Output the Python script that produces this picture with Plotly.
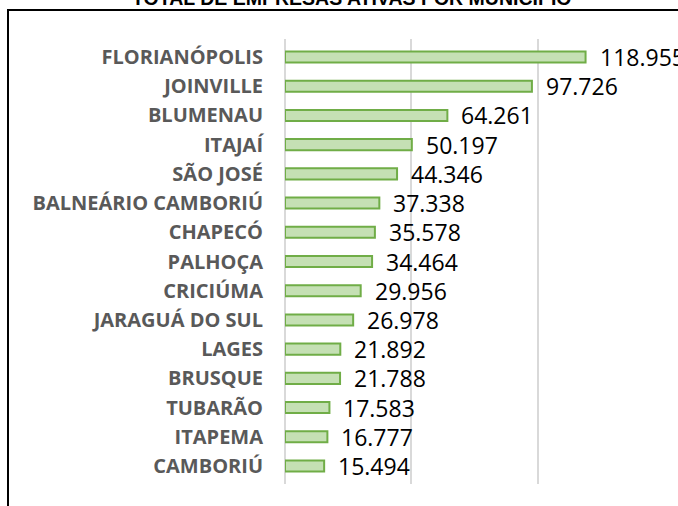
import plotly.graph_objects as go

municipios = ["FLORIANÓPOLIS", "JOINVILLE", "BLUMENAU", "ITAJAÍ", "SÃO JOSÉ",
              "BALNEÁRIO CAMBORIÚ", "CHAPECÓ", "PALHOÇA", "CRICIÚMA", "JARAGUÁ DO SUL",
              "LAGES", "BRUSQUE", "TUBARÃO", "ITAPEMA", "CAMBORIÚ"]
empresas = [118955, 97726, 64261, 50197, 44346, 37338, 35578, 34464, 29956, 26978,
            21892, 21788, 17583, 16777, 15494]
titulo = "TOTAL DE EMPRESAS ATIVAS POR MUNICÍPIO"

labels = [f"{v:,}".replace(",", ".") for v in empresas]

# plot area in window pixels: x 285..664, y 39..484
PX0, PX1, PY0, PY1 = 285, 664, 39, 484


def px_x(p):
    return (p - PX0) / (PX1 - PX0)


def px_y(p):
    return (PY1 - p) / (PY1 - PY0)


fig = go.Figure(go.Bar(
    x=empresas, y=municipios, orientation="h",
    marker=dict(color="#c5e0b4", line=dict(color="#70ad47", width=2)),
    width=0.38,
    hoverinfo="skip",
))

annotations = [dict(x=v, y=m, xref="x", yref="y", text=t, showarrow=False,
                    xanchor="left", yanchor="middle", xshift=12, yshift=0,
                    font=dict(family="Open Sans", size=23, color="#000000"))
               for v, m, t in zip(empresas, municipios, labels)]
annotations.append(dict(text=f"<b>{titulo}</b>", xref="paper", yref="paper",
                        x=px_x(352), y=px_y(10), xanchor="center", yanchor="bottom",
                        showarrow=False, borderpad=0,
                        font=dict(family="Liberation Sans", size=19.5, color="#000000")))

border = dict(color="#000000", width=2)
fig.update_layout(
    width=678, height=506,
    margin=dict(l=PX0, r=678 - PX1, t=PY0, b=506 - PY1),
    paper_bgcolor="white", plot_bgcolor="white",
    showlegend=False,
    xaxis=dict(range=[0, 150000], dtick=50000, showticklabels=False,
               showgrid=True, gridcolor="#d9d9d9", gridwidth=1.5,
               zeroline=True, zerolinecolor="#d9d9d9", zerolinewidth=1.5,
               fixedrange=True),
    yaxis=dict(autorange="reversed", ticks="", ticklabelstandoff=21,
               tickfont=dict(family="Open Sans", size=20,
                             color="#595959", weight="bold"),
               fixedrange=True),
    shapes=[dict(type="line", xref="paper", yref="paper",
                 x0=px_x(7), x1=px_x(690), y0=px_y(10), y1=px_y(10),
                 line=border, layer="below"),
            dict(type="line", xref="paper", yref="paper",
                 x0=px_x(8), x1=px_x(8), y0=px_y(10), y1=px_y(520),
                 line=border, layer="below")],
    annotations=annotations,
)

fig.write_html("out.html", config={"displayModeBar": False},
               post_script="document.body.style.margin='0';document.body.style.overflow='hidden';")
